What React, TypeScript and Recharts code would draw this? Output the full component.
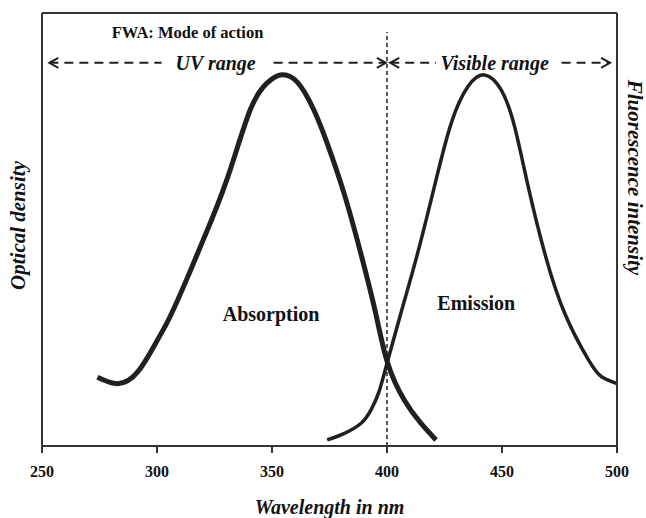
import { LineChart, Line, XAxis, YAxis, ReferenceLine, ReferenceDot, Label } from 'recharts';

// wavelength (nm) / relative intensity
const absorptionNm = [274.1, 282.9, 291.6, 299.9, 305.6, 313, 320.1, 330.3, 340.5, 347.8, 353.6, 360.9, 368.2, 374, 381.3, 388.6, 395.1, 400.2, 407.5, 414.8, 421.3];
const absorptionVal = [15.9, 14.4, 17.1, 24.2, 29.8, 38.6, 47.6, 61.4, 77.6, 83.8, 85.7, 84.1, 77.6, 69.9, 58.4, 44.5, 30.6, 19.3, 10.6, 5.2, 1.4];

const emissionNm = [374, 381, 388.6, 393, 396.5, 400.2, 406, 413.3, 420.6, 427.9, 435.2, 442.4, 449.7, 455.5, 461.4, 468.6, 477.3, 487.6, 493.3, 500];
const emissionVal = [1.4, 2.8, 5.2, 8.3, 12.5, 19.5, 30.6, 44.5, 59.9, 74.5, 83.0, 85.7, 82.2, 73.7, 59.9, 44.5, 30.6, 19.9, 16.0, 14.4];

const xTicks = [250, 300, 350, 400, 450, 500];

const absorption = absorptionNm.map((x, i) => ({ x, y: absorptionVal[i] }));
const emission = emissionNm.map((x, i) => ({ x, y: emissionVal[i] }));

const INK = '#231f20';
const FRAME = '#333';
const SERIF = '"Liberation Serif", "Times New Roman", serif';

function textAt(value: string, opts: { size: number; italic?: boolean; anchor?: 'start' | 'middle'; dy?: number }) {
  return ({ viewBox }: any) => {
    const cx = viewBox.x + viewBox.width / 2;
    const cy = viewBox.y + viewBox.height / 2 + (opts.dy ?? 0);
    return (
      <text x={cx} y={cy} textAnchor={opts.anchor ?? 'middle'} dominantBaseline="central" fontFamily={SERIF} fontWeight="bold" fontStyle={opts.italic ? 'italic' : 'normal'} fontSize={opts.size} fill="#111">
        {value}
      </text>
    );
  };
}

function sideTitle(value: string, dx: number, dy: number, angle: number) {
  return ({ viewBox }: any) => {
    const cx = viewBox.x + dx;
    const cy = viewBox.y + viewBox.height / 2 + dy;
    return (
      <text x={cx} y={cy} transform={`rotate(${angle} ${cx} ${cy})`} textAnchor="middle" dominantBaseline="central" fontFamily={SERIF} fontWeight="bold" fontStyle="italic" fontSize={21} fill="#111">
        {value}
      </text>
    );
  };
}

// dashed line with an open chevron at one end
function arrowShape(tipAt: 'start' | 'end') {
  return (p: any) => {
    const { x1, y1, x2, y2 } = p;
    const tx = tipAt === 'start' ? x1 : x2;
    const dir = tipAt === 'start' ? 1 : -1;
    return (
      <g>
        <line x1={x1} y1={y1} x2={x2} y2={y2} stroke={INK} strokeWidth={2} strokeDasharray="9 6" />
        <polyline points={`${tx + dir * 9},${y1 - 5} ${tx},${y1} ${tx + dir * 9},${y1 + 5}`} fill="none" stroke={INK} strokeWidth={2} />
      </g>
    );
  };
}

const ARROW_Y = 88.5;

export default function App() {
  return (
    <div style={{ position: 'absolute', left: 0, top: 0 }}>
      <LineChart width={646} height={518} margin={{ top: 13, right: 0, left: 0, bottom: 42 }}>
        <XAxis
          type="number"
          dataKey="x"
          domain={[250, 500]}
          ticks={xTicks}
          height={30}
          tickSize={7}
          tickMargin={13}
          axisLine={{ stroke: FRAME, strokeWidth: 2 }}
          tickLine={{ stroke: FRAME, strokeWidth: 2 }}
          tick={{ fontSize: 16, fontWeight: 'bold', fontFamily: SERIF, fill: '#111' }}
        >
          <Label content={textAt('Wavelength in nm', { size: 20, italic: true, dy: 46 })} />
        </XAxis>
        <YAxis yAxisId="left" domain={[0, 100]} width={42} tick={false} tickLine={false} axisLine={{ stroke: FRAME, strokeWidth: 2 }}>
          <Label content={sideTitle('Optical density', 18, -4, -90)} />
        </YAxis>
        <YAxis yAxisId="right" orientation="right" domain={[0, 100]} width={29} tick={false} tickLine={false} axisLine={{ stroke: FRAME, strokeWidth: 2 }}>
          <Label content={sideTitle('Fluorescence intensity', 18, -52, 90)} />
        </YAxis>

        <ReferenceLine yAxisId="left" y={100} stroke={FRAME} strokeWidth={2} />
        <ReferenceLine yAxisId="left" segment={[{ x: 400, y: 0 }, { x: 400, y: 95.6 }]} stroke={INK} strokeWidth={1.5} strokeDasharray="4 3" />

        <ReferenceLine yAxisId="left" segment={[{ x: 253.2, y: ARROW_Y }, { x: 302, y: ARROW_Y }]} shape={arrowShape('start')} />
        <ReferenceLine yAxisId="left" segment={[{ x: 350.7, y: ARROW_Y }, { x: 399.5, y: ARROW_Y }]} shape={arrowShape('end')} />
        <ReferenceLine yAxisId="left" segment={[{ x: 401.4, y: ARROW_Y }, { x: 421.3, y: ARROW_Y }]} shape={arrowShape('start')} />
        <ReferenceLine yAxisId="left" segment={[{ x: 475.9, y: ARROW_Y }, { x: 497, y: ARROW_Y }]} shape={arrowShape('end')} />

        <ReferenceDot yAxisId="left" x={280.3} y={95.4} r={0} fill="none" stroke="none" label={{ content: textAt('FWA: Mode of action', { size: 16.5, anchor: 'start' }) }} />
        <ReferenceDot yAxisId="left" x={325.5} y={ARROW_Y} r={0} fill="none" stroke="none" label={{ content: textAt('UV range', { size: 20, italic: true }) }} />
        <ReferenceDot yAxisId="left" x={446.8} y={ARROW_Y} r={0} fill="none" stroke="none" label={{ content: textAt('Visible range', { size: 20, italic: true }) }} />
        <ReferenceDot yAxisId="left" x={349.6} y={30.6} r={0} fill="none" stroke="none" label={{ content: textAt('Absorption', { size: 20 }) }} />
        <ReferenceDot yAxisId="left" x={438.8} y={33.0} r={0} fill="none" stroke="none" label={{ content: textAt('Emission', { size: 20 }) }} />

        <Line yAxisId="left" data={absorption} dataKey="y" type="natural" stroke={INK} strokeWidth={5} dot={false} isAnimationActive={false} />
        <Line yAxisId="left" data={emission} dataKey="y" type="natural" stroke={INK} strokeWidth={3.5} dot={false} isAnimationActive={false} />
      </LineChart>
    </div>
  );
}
